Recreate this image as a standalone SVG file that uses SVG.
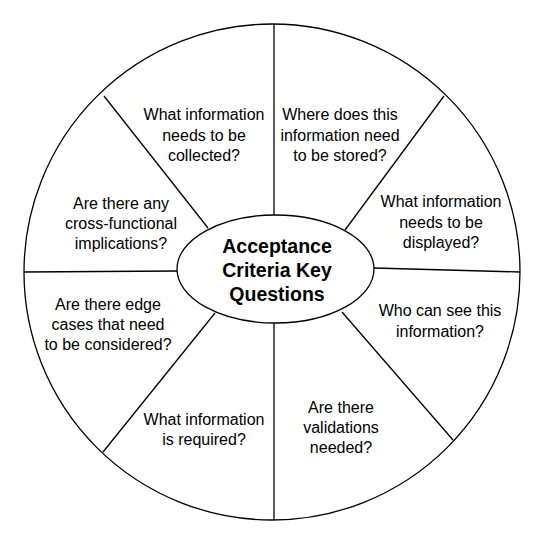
<svg xmlns="http://www.w3.org/2000/svg" width="545" height="545" viewBox="0 0 545 545">
<style>
.shape{fill:#fff;stroke:#000;stroke-width:1.3}
.conn line{stroke:#000;stroke-width:1.3}
.q{font-family:"Liberation Sans",Arial,sans-serif;font-size:16px;fill:#000;text-anchor:middle}
.title{font-family:"Liberation Sans",Arial,sans-serif;font-size:19.5px;font-weight:bold;fill:#000;text-anchor:middle}
</style>
<rect width="545" height="545" fill="#fff"/>
<g id="wheel"><circle class="shape" cx="272" cy="272" r="248"/></g>
<g id="connectors" class="conn">
<line x1="274" y1="24" x2="274" y2="215"/>
<line x1="444" y1="96" x2="345" y2="230"/>
<line x1="374" y1="268" x2="520" y2="272"/>
<line x1="342" y1="312" x2="453" y2="440"/>
<line x1="274" y1="323" x2="274" y2="520"/>
<line x1="215" y1="313" x2="103" y2="452"/>
<line x1="24" y1="272" x2="177" y2="271"/>
<line x1="104" y1="96" x2="208" y2="228"/>
</g>
<g id="center">
<ellipse class="shape" cx="275.5" cy="269" rx="98.5" ry="54"/>
<text class="title"><tspan x="277" y="253">Acceptance</tspan><tspan x="277" y="277">Criteria Key</tspan><tspan x="277" y="301">Questions</tspan></text>
</g>
<g id="q1"><text class="q"><tspan x="204" y="120">What information</tspan><tspan x="204" y="141">needs to be</tspan><tspan x="204" y="161">collected?</tspan></text></g>
<g id="q2"><text class="q"><tspan x="340" y="120">Where does this</tspan><tspan x="340" y="141">information need</tspan><tspan x="340" y="161">to be stored?</tspan></text></g>
<g id="q3"><text class="q"><tspan x="441" y="207">What information</tspan><tspan x="441" y="228">needs to be</tspan><tspan x="441" y="248">displayed?</tspan></text></g>
<g id="q4"><text class="q"><tspan x="440" y="316">Who can see this</tspan><tspan x="440" y="337">information?</tspan></text></g>
<g id="q5"><text class="q"><tspan x="341" y="413">Are there</tspan><tspan x="341" y="433">validations</tspan><tspan x="341" y="453">needed?</tspan></text></g>
<g id="q6"><text class="q"><tspan x="204" y="425">What information</tspan><tspan x="204" y="445">is required?</tspan></text></g>
<g id="q7"><text class="q"><tspan x="108" y="310">Are there edge</tspan><tspan x="108" y="330">cases that need</tspan><tspan x="108" y="350">to be considered?</tspan></text></g>
<g id="q8"><text class="q"><tspan x="121" y="209">Are there any</tspan><tspan x="121" y="229">cross-functional</tspan><tspan x="121" y="249">implications?</tspan></text></g>
</svg>
